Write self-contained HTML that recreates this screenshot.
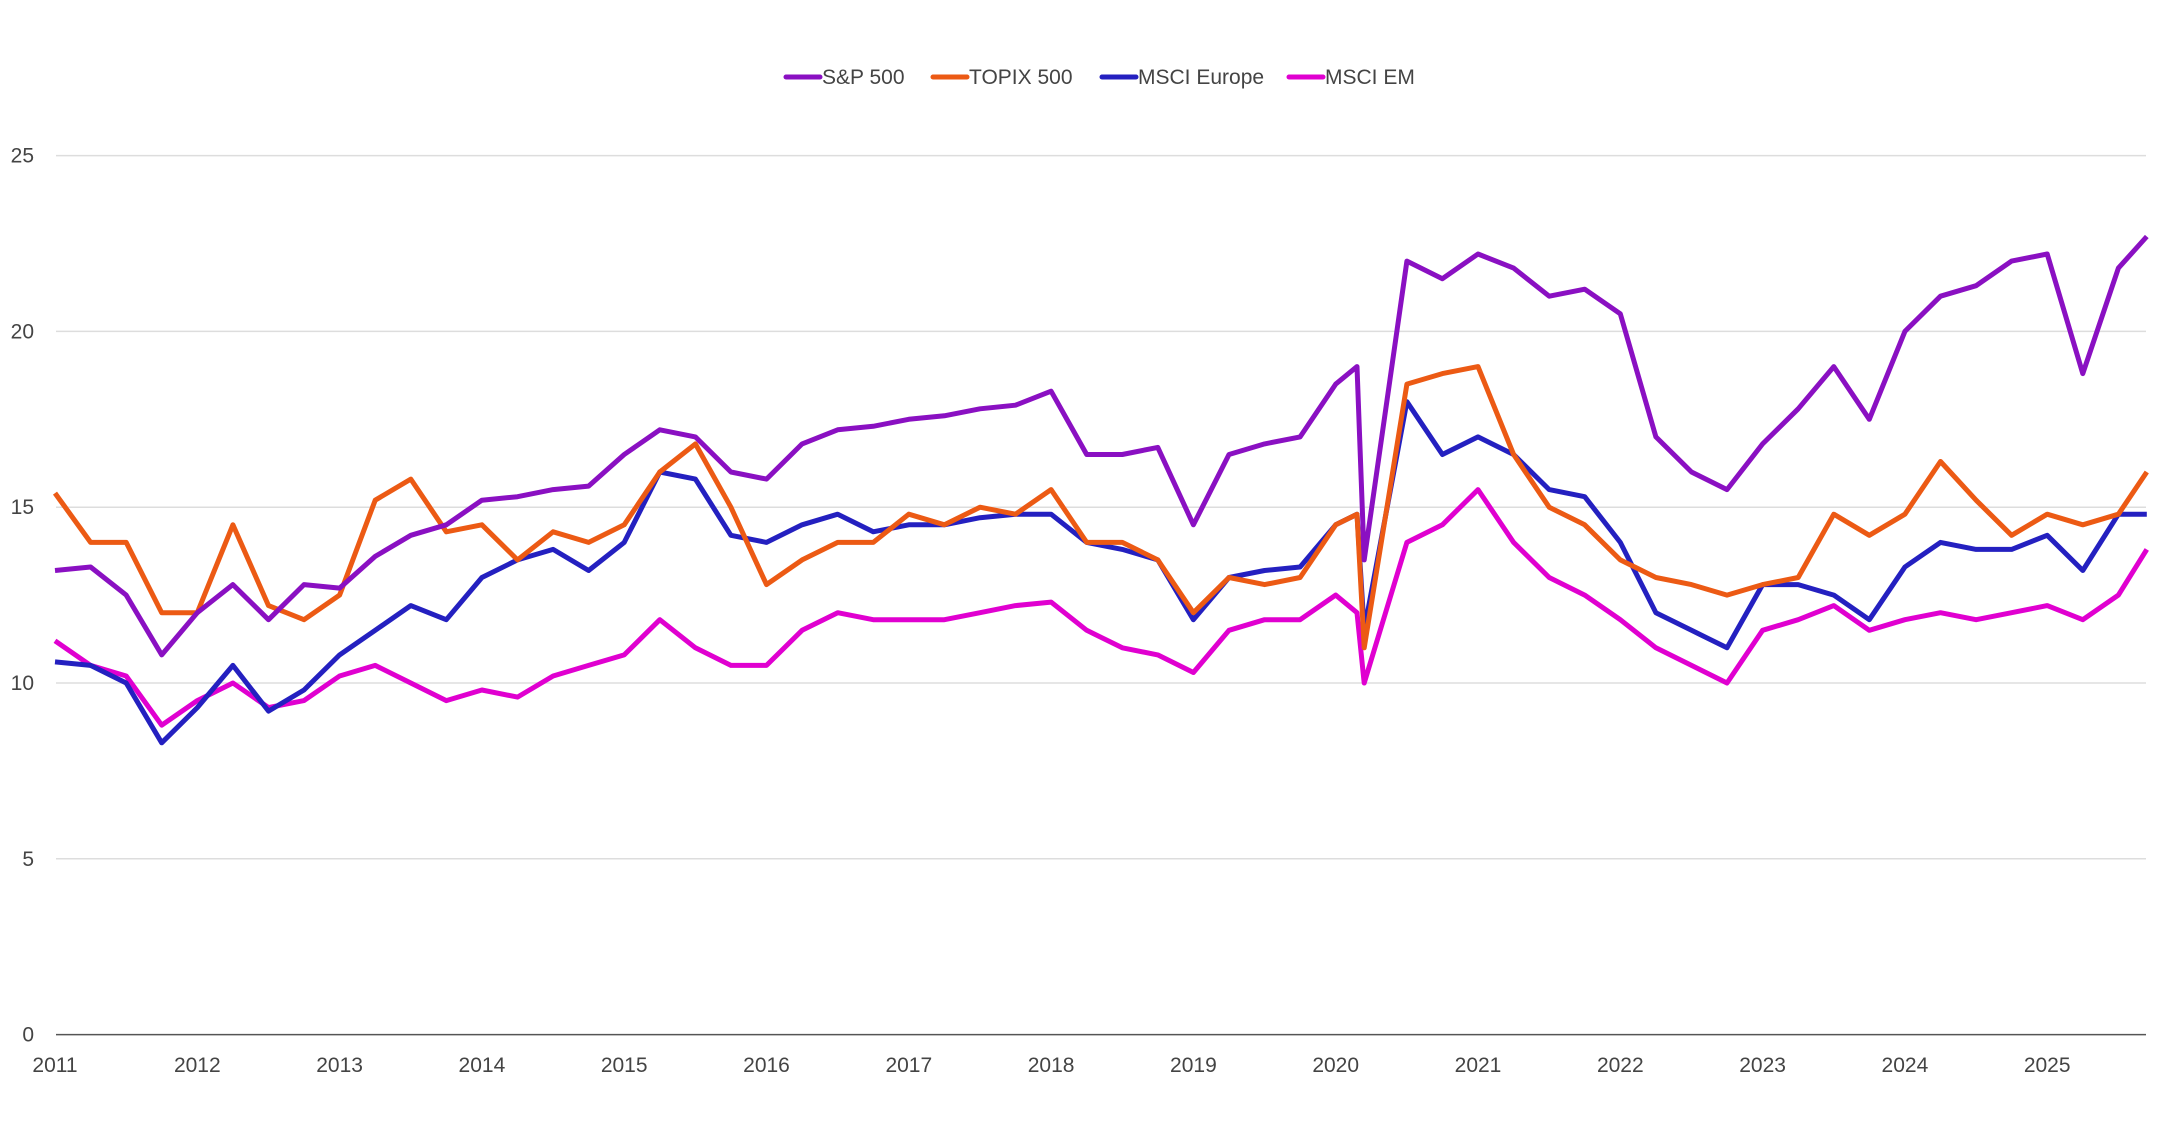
<!DOCTYPE html>
<html><head><meta charset="utf-8"><style>
html,body{margin:0;padding:0;background:#fff;}
svg{display:block;font-family:"Liberation Sans",sans-serif;}
</style></head><body>
<svg id="chart" width="2160" height="1131"></svg>
<script>
const dates=[2011,2011.25,2011.5,2011.75,2012,2012.25,2012.5,2012.75,2013,2013.25,2013.5,2013.75,2014,2014.25,2014.5,2014.75,2015,2015.25,2015.5,2015.75,2016,2016.25,2016.5,2016.75,2017,2017.25,2017.5,2017.75,2018,2018.25,2018.5,2018.75,2019,2019.25,2019.5,2019.75,2020,2020.15,2020.2,2020.5,2020.75,2021,2021.25,2021.5,2021.75,2022,2022.25,2022.5,2022.75,2023,2023.25,2023.5,2023.75,2024,2024.25,2024.5,2024.75,2025,2025.25,2025.5,2025.7];
const sp500=[13.2,13.3,12.5,10.8,12.0,12.8,11.8,12.8,12.7,13.6,14.2,14.5,15.2,15.3,15.5,15.6,16.5,17.2,17.0,16.0,15.8,16.8,17.2,17.3,17.5,17.6,17.8,17.9,18.3,16.5,16.5,16.7,14.5,16.5,16.8,17.0,18.5,19.0,13.5,22.0,21.5,22.2,21.8,21.0,21.2,20.5,17.0,16.0,15.5,16.8,17.8,19.0,17.5,20.0,21.0,21.3,22.0,22.2,18.8,21.8,22.7];
const topix=[15.4,14.0,14.0,12.0,12.0,14.5,12.2,11.8,12.5,15.2,15.8,14.3,14.5,13.5,14.3,14.0,14.5,16.0,16.8,15.0,12.8,13.5,14.0,14.0,14.8,14.5,15.0,14.8,15.5,14.0,14.0,13.5,12.0,13.0,12.8,13.0,14.5,14.8,11.0,18.5,18.8,19.0,16.5,15.0,14.5,13.5,13.0,12.8,12.5,12.8,13.0,14.8,14.2,14.8,16.3,15.2,14.2,14.8,14.5,14.8,16.0];
const europe=[10.6,10.5,10.0,8.3,9.3,10.5,9.2,9.8,10.8,11.5,12.2,11.8,13.0,13.5,13.8,13.2,14.0,16.0,15.8,14.2,14.0,14.5,14.8,14.3,14.5,14.5,14.7,14.8,14.8,14.0,13.8,13.5,11.8,13.0,13.2,13.3,14.5,14.8,11.5,18.0,16.5,17.0,16.5,15.5,15.3,14.0,12.0,11.5,11.0,12.8,12.8,12.5,11.8,13.3,14.0,13.8,13.8,14.2,13.2,14.8,14.8];
const em=[11.2,10.5,10.2,8.8,9.5,10.0,9.3,9.5,10.2,10.5,10.0,9.5,9.8,9.6,10.2,10.5,10.8,11.8,11.0,10.5,10.5,11.5,12.0,11.8,11.8,11.8,12.0,12.2,12.3,11.5,11.0,10.8,10.3,11.5,11.8,11.8,12.5,12.0,10.0,14.0,14.5,15.5,14.0,13.0,12.5,11.8,11.0,10.5,10.0,11.5,11.8,12.2,11.5,11.8,12.0,11.8,12.0,12.2,11.8,12.5,13.8];
const yTicks=[0,5,10,15,20,25];
const xTicks=[2011,2012,2013,2014,2015,2016,2017,2018,2019,2020,2021,2022,2023,2024,2025];
const seriesNames=["S&P 500","TOPIX 500","MSCI Europe","MSCI EM"];

const NS="http://www.w3.org/2000/svg";
const svg=document.getElementById('chart');
const X=t=>55+(t-2011)*142.3;
const Y=v=>1034.6-v*35.16;
function mk(tag,attrs,parent){const e=document.createElementNS(NS,tag);for(const k in attrs)e.setAttribute(k,attrs[k]);(parent||svg).appendChild(e);return e;}
yTicks.forEach(v=>{
  const g=mk('line',{x1:56,x2:2146,y1:Y(v),y2:Y(v),stroke:v===0?'#555':'#ddd','stroke-width':1.5});
  
  
  const t=mk('text',{x:34,y:Y(v)+7,'text-anchor':'end','font-size':21,fill:'#444'});
  t.textContent=v;
  
  
});
xTicks.forEach(yr=>{
  const t=mk('text',{x:X(yr),y:1072,'text-anchor':'middle','font-size':21,fill:'#444'});
  t.textContent=yr;
  
  
});
const colors=['#8a10c2','#ec5a14','#2420c0','#e000d0'];
const data=[sp500,topix,europe,em];
const ids=['sp500','topix-500','msci-europe','msci-em'];
[3,2,1,0].forEach(i=>{
  const d=data[i].map((v,k)=>(k?'L':'M')+X(dates[k]).toFixed(1)+','+Y(v).toFixed(1)).join('');
  const p=mk('path',{d:d,fill:'none',stroke:colors[i],'stroke-width':5,'stroke-linejoin':'round'});
  
  
});
const lx=[786,933,1102,1289];
seriesNames.forEach((n,i)=>{
  const g=mk('g',{});
  
  
  mk('line',{x1:lx[i],x2:lx[i]+34,y1:77,y2:77,stroke:colors[i],'stroke-width':5,'stroke-linecap':'round'},g);
  const t=mk('text',{x:lx[i]+36,y:84,'font-size':21,fill:'#444'},g);
  t.textContent=n;
});
</script>
</body></html>
